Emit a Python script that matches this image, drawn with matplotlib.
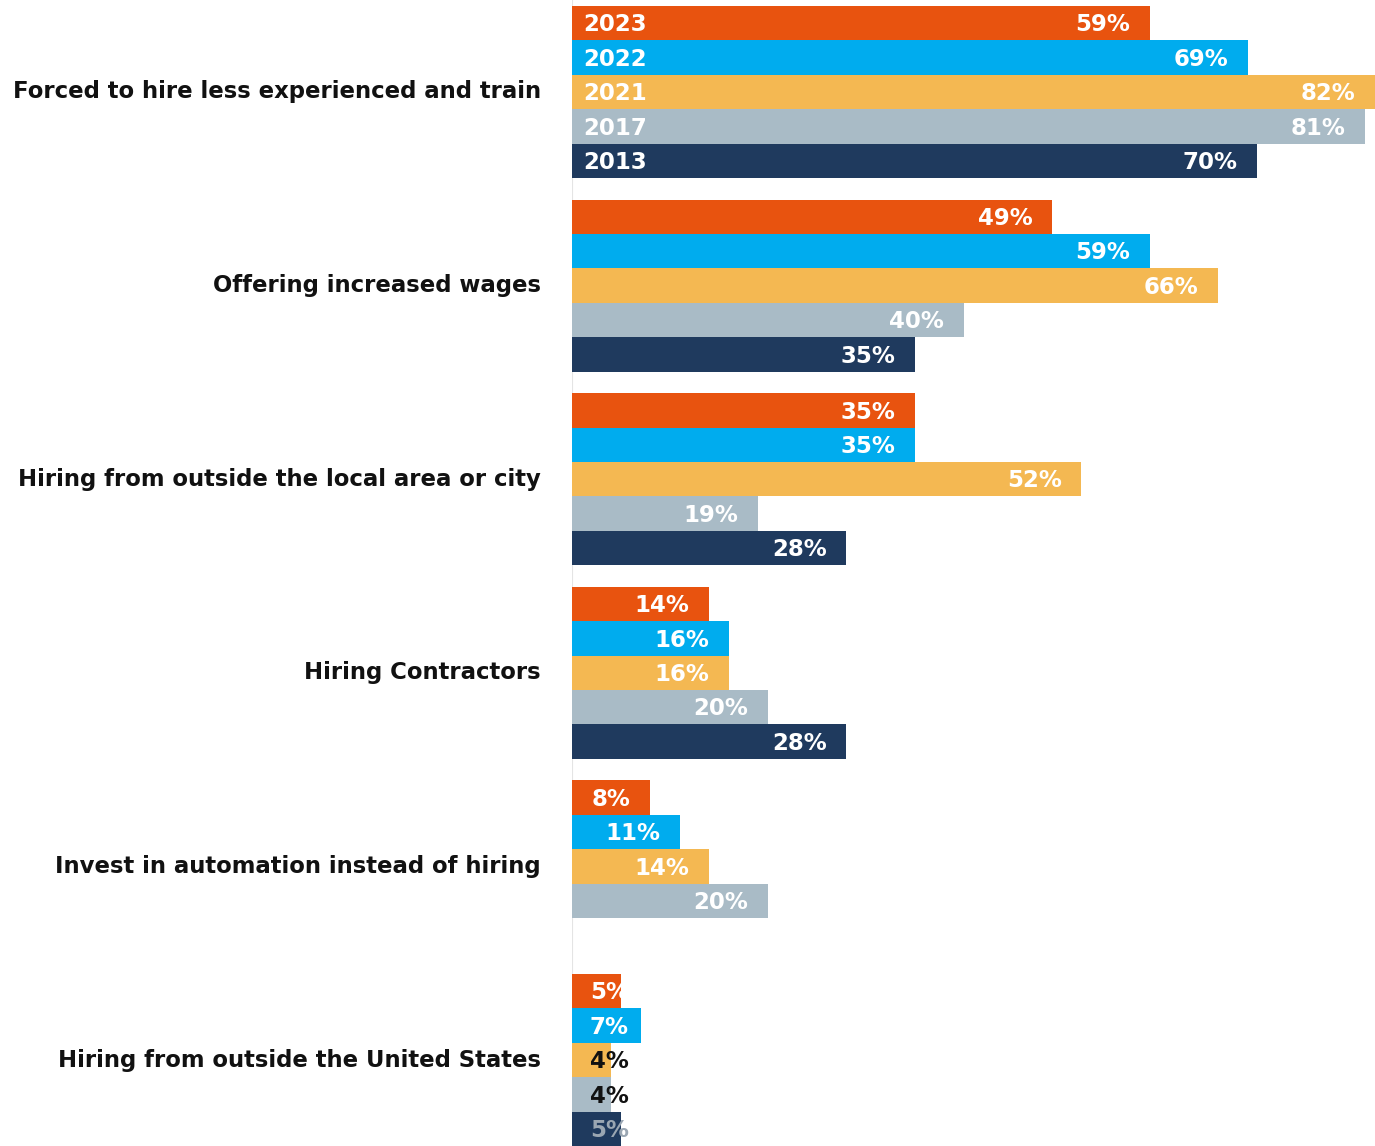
import numpy as np
import matplotlib.pyplot as plt

categories = [
    "Forced to hire less experienced and train",
    "Offering increased wages",
    "Hiring from outside the local area or city",
    "Hiring Contractors",
    "Invest in automation instead of hiring",
    "Hiring from outside the United States",
]
years = ["2023", "2022", "2021", "2017", "2013"]
vals_2023 = [59, 49, 35, 14, 8, 5]
vals_2022 = [69, 59, 35, 16, 11, 7]
vals_2021 = [82, 66, 52, 16, 14, 4]
vals_2017 = [81, 40, 19, 20, 20, 4]
vals_2013 = [70, 35, 28, 28, None, 5]

series = [vals_2023, vals_2022, vals_2021, vals_2017, vals_2013]
colors = ["#E8530F", "#00ACEE", "#F4B852", "#A9BBC6", "#1F3A5E"]

group_step = 5.63
bar_h = 1.0

fig = plt.figure(figsize=(13.75, 11.46), dpi=100)
ax = fig.add_axes([572 / 1375, 0, 1 - 572 / 1375, 1])

for j, (vals, col) in enumerate(zip(series, colors)):
    for i, v in enumerate(vals):
        if v is None:
            continue
        y = i * group_step + j
        ax.barh(y, v, height=bar_h, color=col, edgecolor="none")
        # value label near the end of the bar
        xr = max(v - 2.0, 5.8)
        tc = "white"
        if v < 5:
            tc = "#111111"
        elif v < 6 and j == 4:
            tc = "#9AA6B2"
        ax.text(xr, y + 0.05, f"{v}%", ha="right", va="center",
                color=tc, fontsize=16.5, fontweight="bold")

# year names on the first group
for j, yr in enumerate(years):
    ax.text(1.1, j + 0.05, yr, ha="left", va="center", color="white",
            fontsize=16.5, fontweight="bold")

# category names to the left of the bars
for i, cat in enumerate(categories):
    ax.text(-3.2, i * group_step + 2, cat, ha="right", va="center",
            color="#111111", fontsize=16.4, fontweight="bold")

ax.set_xlim(0, 82)
ax.set_ylim(5 * group_step + 4.5, -0.5 - 6 / 34.4)
ax.axvline(0, color="#E4E4E4", lw=1.5, zorder=0)
for s in ax.spines.values():
    s.set_visible(False)
ax.set_xticks([])
ax.set_yticks([])

fig.savefig("out.png", dpi=100)
